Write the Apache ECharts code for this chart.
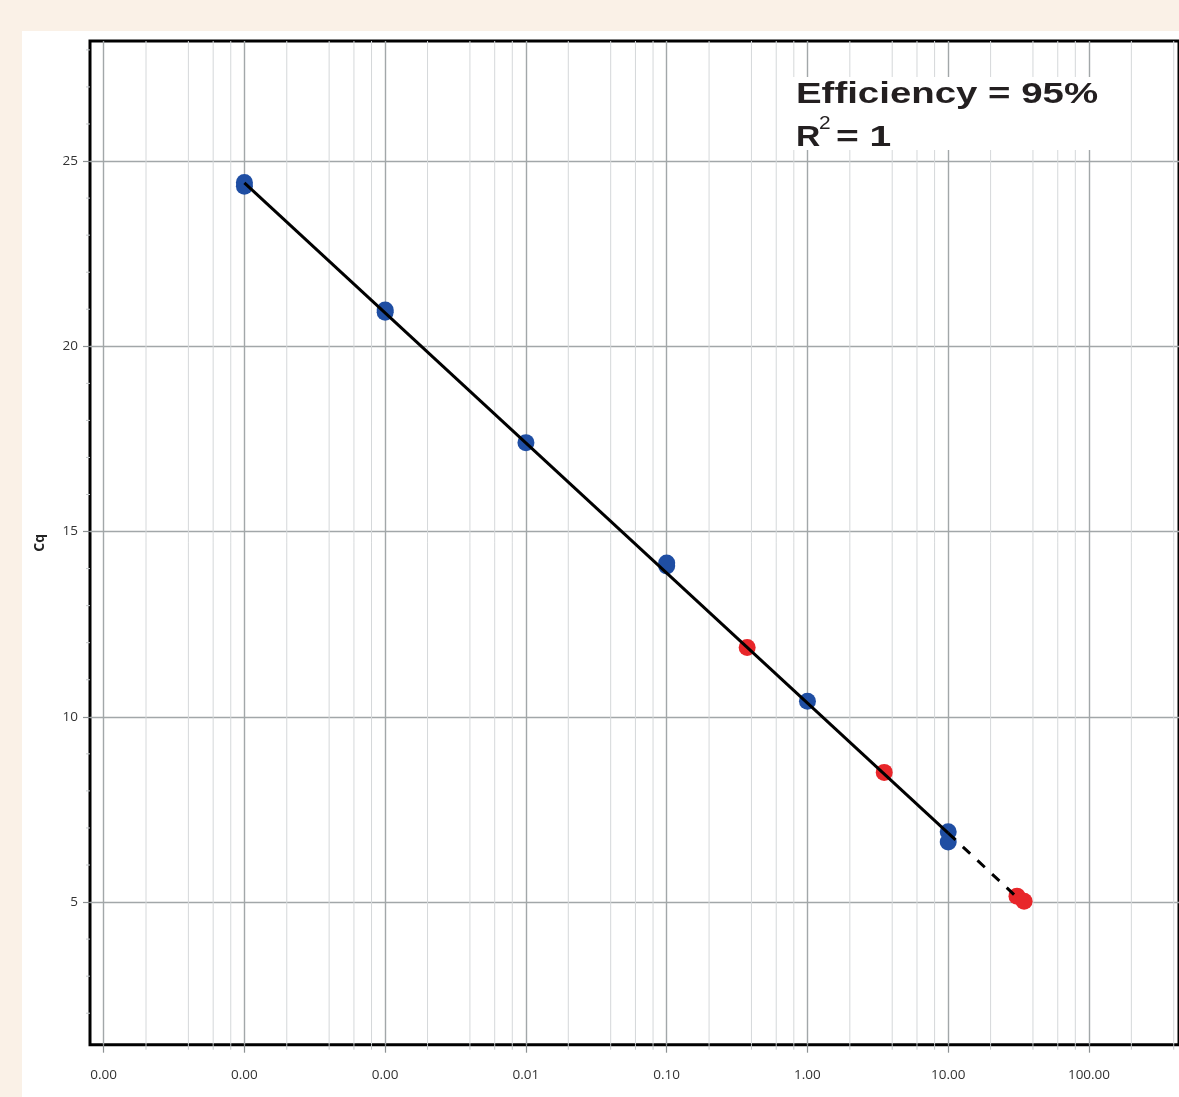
<!DOCTYPE html>
<html><head><meta charset="utf-8">
<script src="https://cdn.jsdelivr.net/npm/echarts@6/dist/echarts.min.js"></script>
<style>
html,body{margin:0;padding:0;background:#FAF1E7;width:1179px;height:1097px;overflow:hidden;}
#chart{position:absolute;left:22px;top:31px;width:1157px;height:1066px;background:#fff;}
</style></head><body><div id="chart"></div>
<script>
// ---- data ----
const xMajorTicks = [1e-5, 1e-4, 1e-3, 1e-2, 0.1, 1, 10, 100];
const xMinorTicks = [2e-5, 4e-5, 6e-5, 8e-5, 2e-4, 4e-4, 6e-4, 8e-4, 2e-3, 4e-3, 6e-3, 8e-3,
                     0.02, 0.04, 0.06, 0.08, 0.2, 0.4, 0.6, 0.8, 2, 4, 6, 8, 20, 40, 60, 80, 200, 400];
const yMajorTicks = [5, 10, 15, 20, 25];
const yMinorTicks = [2, 3, 4, 6, 7, 8, 9, 11, 12, 13, 14, 16, 17, 18, 19, 21, 22, 23, 24, 26, 27, 28];

const blueX = [1e-4, 1e-4, 1e-3, 1e-3, 1e-2, 0.1, 0.1, 1, 10, 10];
const blueY = [24.32, 24.42, 20.92, 20.98, 17.40, 14.07, 14.15, 10.42, 6.90, 6.62];
const redX = [0.373, 3.51, 30.8, 34.6];
const redY = [11.87, 8.50, 5.16, 5.02];

const fitSolidX = [1e-4, 10];
const fitSolidY = [24.41, 6.86];
const fitDashX = [10, 29.4];
const fitDashY = [6.86, 5.20];

const X_MIN = 8e-6, X_MAX = 436, Y_MIN = 1.15, Y_MAX = 28.24;

const zip = (a, b) => a.map((v, i) => [v, b[i]]);
const labelFont = '"Open Sans", "Noto Sans", sans-serif';
const boldFont = 'bold 30px "Liberation Sans", Arial, sans-serif';

const chart = echarts.init(document.getElementById('chart'), null, {renderer: 'canvas'});
chart.setOption({
  animation: false,
  backgroundColor: '#ffffff',
  grid: {left: 68, top: 10, right: -3.5, bottom: 52.3, show: true, borderColor: '#000', borderWidth: 3, backgroundColor: 'transparent'},
  xAxis: {
    type: 'log', logBase: 10, min: X_MIN, max: X_MAX,
    axisLine: {show: false},
    axisTick: {show: true, customValues: xMajorTicks, length: 8, lineStyle: {color: '#8c9193', width: 1.2}},
    axisLabel: {customValues: xMajorTicks, formatter: v => Number(v).toFixed(2), margin: 23,
      fontSize: 13.5, color: '#333', fontFamily: labelFont},
    splitLine: {show: true, lineStyle: {color: '#a2a7a9', width: 1.4}},
    minorTick: {show: false}, minorSplitLine: {show: false}
  },
  yAxis: {
    type: 'value', min: Y_MIN, max: Y_MAX,
    name: 'Cq', nameLocation: 'middle', nameGap: 43, nameRotate: 90,
    nameTextStyle: {fontSize: 14, fontWeight: 'bold', color: '#222', fontFamily: labelFont},
    axisLine: {show: false},
    axisTick: {show: true, customValues: yMajorTicks, length: 7, lineStyle: {color: '#8c9193', width: 1.2}},
    axisLabel: {customValues: yMajorTicks, margin: 12, fontSize: 13.5, color: '#333', fontFamily: labelFont},
    splitLine: {show: true, lineStyle: {color: '#a2a7a9', width: 1.4}}
  },
  graphic: [
    {type: 'rect', shape: {x: 770, y: 46, width: 312, height: 73}, style: {fill: '#fff'}, z: 50, silent: true},
    {type: 'text', x: 774, y: 63.6, scaleX: 1.28, z: 51, silent: true,
      style: {text: 'Efficiency = 95%', fill: '#231f20', font: boldFont, verticalAlign: 'middle'}},
    {type: 'text', x: 774, y: 106.6, scaleX: 1.12, z: 51, silent: true,
      style: {text: 'R', fill: '#231f20', font: boldFont, verticalAlign: 'middle'}},
    {type: 'text', x: 797, y: 93, scaleX: 1.1, z: 51, silent: true,
      style: {text: '2', fill: '#231f20', font: '19px "Liberation Sans", Arial, sans-serif', verticalAlign: 'middle'}},
    {type: 'text', x: 814, y: 106.6, scaleX: 1.3, z: 51, silent: true,
      style: {text: '= 1', fill: '#231f20', font: boldFont, verticalAlign: 'middle'}}
  ],
  series: [
    {
      type: 'custom', name: 'xMinor', silent: true, z: 1, clip: false,
      data: xMinorTicks.map(v => [v, Y_MIN]),
      renderItem: (params, api) => {
        const x = api.value(0);
        const p0 = api.coord([x, Y_MIN]);
        const p1 = api.coord([x, Y_MAX]);
        return {type: 'group', children: [
          {type: 'line', shape: {x1: p0[0], y1: p0[1], x2: p1[0], y2: p1[1]}, style: {stroke: '#d5d8da', lineWidth: 1}},
          {type: 'line', shape: {x1: p0[0], y1: p0[1], x2: p0[0], y2: p0[1] + 5}, style: {stroke: '#c3c7c9', lineWidth: 1}}
        ]};
      }
    },
    {
      type: 'custom', name: 'yMinor', silent: true, z: 1, clip: false,
      data: yMinorTicks.map(v => [X_MIN, v]),
      renderItem: (params, api) => {
        const p = api.coord([X_MIN, api.value(1)]);
        return {type: 'line', shape: {x1: p[0] - 4, y1: p[1], x2: p[0], y2: p[1]}, style: {stroke: '#c3c7c9', lineWidth: 1}};
      }
    },
    {type: 'scatter', name: 'standards', data: zip(blueX, blueY), symbol: 'circle', symbolSize: 17,
      itemStyle: {color: '#1f4ea3', opacity: 1}, z: 3},
    {type: 'scatter', name: 'samples', data: zip(redX, redY), symbol: 'circle', symbolSize: 17,
      itemStyle: {color: '#e8262a', opacity: 1}, z: 3},
    {type: 'line', name: 'fit', data: zip(fitSolidX, fitSolidY), symbol: 'none',
      lineStyle: {color: '#000', width: 3}, z: 5},
    {type: 'line', name: 'extrapolation', data: zip(fitDashX, fitDashY), symbol: 'none',
      lineStyle: {color: '#000', width: 3, type: [10, 10]}, z: 5}
  ]
});
</script></body></html>
